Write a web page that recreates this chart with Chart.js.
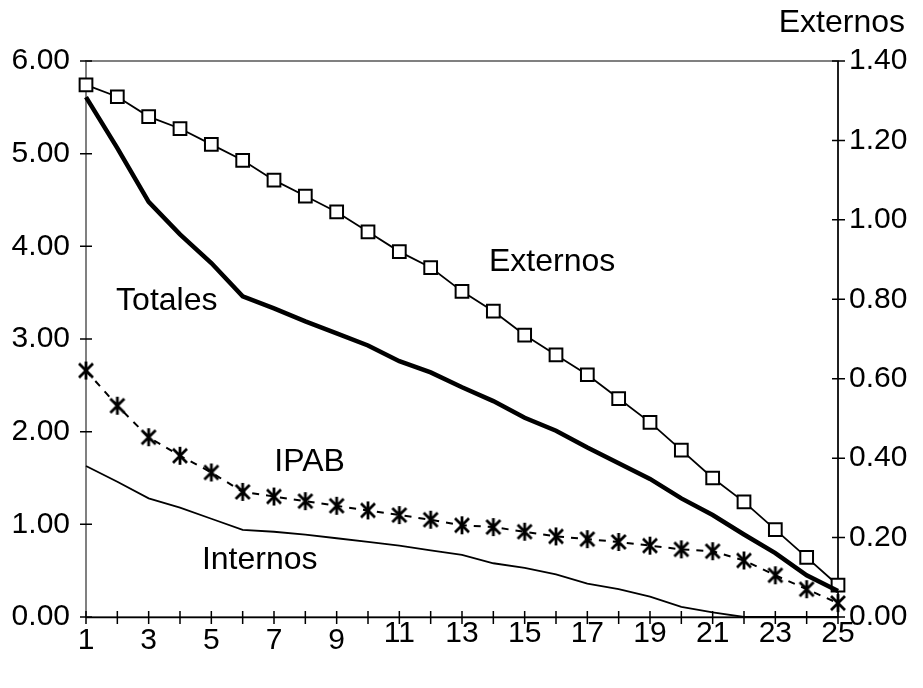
<!DOCTYPE html>
<html>
<head>
<meta charset="utf-8">
<script src="https://cdn.jsdelivr.net/npm/chart.js@4/dist/chart.umd.min.js"></script>
<style>
  body { margin: 0; background: #fff; }
  canvas { display: block; }
</style>
</head>
<body>
<canvas id="myChart" width="923" height="688"></canvas>
<script>
(function () {
  const categories = ['1', '2', '3', '4', '5', '6', '7', '8', '9', '10', '11', '12', '13',
    '14', '15', '16', '17', '18', '19', '20', '21', '22', '23', '24', '25'];

  // left axis
  const totales = [5.61, 5.06, 4.48, 4.13, 3.82, 3.46, 3.33, 3.19, 3.06, 2.93, 2.76, 2.64, 2.48,
    2.33, 2.15, 2.01, 1.83, 1.66, 1.49, 1.28, 1.10, 0.89, 0.69, 0.45, 0.28];
  const ipab = [2.66, 2.28, 1.94, 1.74, 1.56, 1.35, 1.30, 1.25, 1.20, 1.15, 1.10, 1.05, 0.99,
    0.97, 0.92, 0.87, 0.84, 0.81, 0.77, 0.73, 0.71, 0.61, 0.45, 0.30, 0.15];
  const internos = [1.63, 1.46, 1.28, 1.18, 1.06, 0.94, 0.92, 0.89, 0.85, 0.81, 0.77, 0.72, 0.67,
    0.58, 0.53, 0.46, 0.36, 0.30, 0.22, 0.11, 0.05, 0, 0, 0, 0];

  // right axis
  const externos = [1.34, 1.31, 1.26, 1.23, 1.19, 1.15, 1.10, 1.06, 1.02, 0.97, 0.92, 0.88, 0.82,
    0.77, 0.71, 0.66, 0.61, 0.55, 0.49, 0.42, 0.35, 0.29, 0.22, 0.15, 0.08];

  const leftTicks = [0, 1, 2, 3, 4, 5, 6];
  const rightTicks = [0, 0.2, 0.4, 0.6, 0.8, 1.0, 1.2, 1.4];

  const rightTitle = 'Externos';
  const seriesLabels = ['Totales', 'Externos', 'IPAB', 'Internos'];
  // where each label sits, in (category position, left axis value)
  const labelAnchors = [[1.96, 3.31], [13.86, 3.73], [7.01, 1.58], [4.70, 0.515]];

  const FONT = "'Liberation Sans', Arial, sans-serif";

  // six-armed asterisk marker
  const star = document.createElement('canvas');
  star.width = 20;
  star.height = 20;
  const sc = star.getContext('2d');
  sc.strokeStyle = '#000';
  sc.lineWidth = 2.8;
  sc.beginPath();
  sc.moveTo(3, 3); sc.lineTo(17, 17);
  sc.moveTo(17, 3); sc.lineTo(3, 17);
  sc.moveTo(10, 1); sc.lineTo(10, 19);
  sc.stroke();

  const frame = {
    id: 'frame',
    beforeDatasetsDraw(chart) {
      const { ctx, chartArea: a } = chart;
      ctx.save();
      ctx.strokeStyle = '#808080';
      ctx.lineWidth = 2;
      ctx.strokeRect(a.left, a.top, a.right - a.left, a.bottom - a.top);
      ctx.strokeStyle = '#000';
      ctx.lineWidth = 1.5;
      ctx.beginPath();
      ctx.moveTo(a.left, a.bottom + 0.5); ctx.lineTo(a.right, a.bottom + 0.5);
      ctx.moveTo(a.right, a.top); ctx.lineTo(a.right, a.bottom);
      const x = chart.scales.x;
      x.ticks.forEach((t, i) => {
        const px = x.getPixelForTick(i);
        ctx.moveTo(px, a.bottom - 6); ctx.lineTo(px, a.bottom + 7);
      });
      const y = chart.scales.y;
      y.ticks.forEach((t, i) => {
        const py = y.getPixelForTick(i);
        ctx.moveTo(a.left - 6, py); ctx.lineTo(a.left + 6, py);
      });
      const y1 = chart.scales.y1;
      y1.ticks.forEach((t, i) => {
        const py = y1.getPixelForTick(i);
        ctx.moveTo(a.right - 6, py); ctx.lineTo(a.right + 7, py);
      });
      ctx.stroke();
      ctx.restore();
    },
    afterDatasetsDraw(chart) {
      const { ctx, chartArea: a } = chart;
      const x = chart.scales.x, y = chart.scales.y;
      ctx.save();
      ctx.fillStyle = '#000';
      ctx.font = '32px ' + FONT;
      ctx.textBaseline = 'alphabetic';
      ctx.textAlign = 'left';
      seriesLabels.forEach((s, i) => {
        const [cx, vy] = labelAnchors[i];
        ctx.fillText(s, x.getPixelForValue(cx - 1), y.getPixelForValue(vy));
      });
      ctx.textAlign = 'right';
      ctx.fillText(rightTitle, a.right + 67, 32);
      ctx.restore();
    }
  };

  const data = {
    labels: categories,
    datasets: [
      {
        label: 'Totales',
        data: totales,
        yAxisID: 'y',
        borderColor: '#000',
        borderWidth: 4.5,
        pointRadius: 0,
        tension: 0,
      },
      {
        label: 'Externos',
        data: externos,
        yAxisID: 'y1',
        borderColor: '#000',
        borderWidth: 1.8,
        pointStyle: 'rect',
        pointRadius: 9,
        pointBorderWidth: 2,
        pointBackgroundColor: '#fff',
        pointBorderColor: '#000',
        tension: 0,
      },
      {
        label: 'IPAB',
        data: ipab,
        yAxisID: 'y',
        borderColor: '#000',
        borderWidth: 2,
        borderDash: [7, 7],
        pointStyle: star,
        pointRadius: 10,
        tension: 0,
      },
      {
        label: 'Internos',
        data: internos,
        yAxisID: 'y',
        borderColor: '#000',
        borderWidth: 1.8,
        pointRadius: 0,
        tension: 0,
      },
    ],
  };

  const tickFont = { family: FONT, size: 30 };

  const config = {
    type: 'line',
    data,
    options: {
      responsive: false,
      animation: false,
      layout: { padding: { top: 61, left: 0, right: 0, bottom: 0 } },
      plugins: { legend: { display: false }, tooltip: { enabled: false } },
      scales: {
        x: {
          type: 'category',
          offset: false,
          grid: { display: false, drawTicks: false },
          border: { display: false },
          ticks: {
            autoSkip: false,
            maxRotation: 0,
            padding: 0,
            color: '#000',
            // the first labels sit a little lower in the original
            font: (c) => ({ family: FONT, size: 30, lineHeight: c.index < 9 ? 1.6 : 1.12 }),
            callback: (v, i) => (i % 2 === 0 ? categories[i] : ''),
          },
          afterFit: (s) => { s.height = 71; },
        },
        y: {
          position: 'left',
          min: 0,
          max: 6,
          afterBuildTicks: (s) => { s.ticks = leftTicks.map((v) => ({ value: v })); },
          grid: { display: false, drawTicks: false },
          border: { display: false },
          ticks: { padding: 16, color: '#000', font: tickFont, callback: (v) => Number(v).toFixed(2) },
          afterFit: (s) => { s.width = 86; },
        },
        y1: {
          position: 'right',
          min: 0,
          max: 1.4,
          afterBuildTicks: (s) => { s.ticks = rightTicks.map((v) => ({ value: v })); },
          grid: { display: false, drawTicks: false },
          border: { display: false },
          ticks: { padding: 11, color: '#000', font: tickFont, callback: (v) => Number(v).toFixed(2) },
          afterFit: (s) => { s.width = 85; },
        },
      },
    },
    plugins: [frame],
  };

  new Chart(document.getElementById('myChart').getContext('2d'), config);
})();
</script>
</body>
</html>
